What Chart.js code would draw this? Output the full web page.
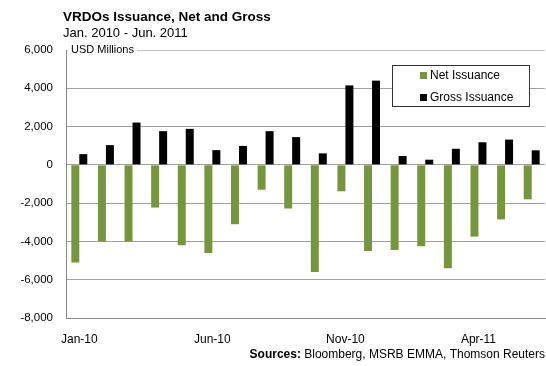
<!DOCTYPE html>
<html>
<head>
<meta charset="utf-8">
<script src="https://cdn.jsdelivr.net/npm/chart.js@4"></script>
<style>
  html, body { margin: 0; padding: 0; background: #fff; }
  #wrap { position: relative; width: 546px; height: 366px; }
</style>
</head>
<body>
<div id="wrap"><canvas id="chart" width="546" height="366"></canvas></div>
<script>
// --- Data ---
const months = ['Jan-10', 'Feb-10', 'Mar-10', 'Apr-10', 'May-10', 'Jun-10', 'Jul-10', 'Aug-10', 'Sep-10',
    'Oct-10', 'Nov-10', 'Dec-10', 'Jan-11', 'Feb-11', 'Mar-11', 'Apr-11', 'May-11', 'Jun-11'];
const netIssuance = [-5100, -4000, -4000, -2230, -4200, -4600, -3100, -1300, -2280,
    -5600, -1380, -4500, -4450, -4250, -5400, -3750, -2850, -1800];
const grossIssuance = [560, 1030, 2210, 1760, 1880, 770, 990, 1760, 1450,
    600, 4150, 4400, 460, 270, 840, 1180, 1320, 760];
const shownLabels = ['Jan-10', 'Jun-10', 'Nov-10', 'Apr-11'];
const yTicks = [-8000, -6000, -4000, -2000, 0, 2000, 4000, 6000];

const GREEN = '#76963d';
const FONT = '"Liberation Sans", Arial, sans-serif';

// Title, unit label, legend box and source line
const decorations = {
    id: 'decorations',
    afterDraw(chart) {
        const ctx = chart.ctx;
        const area = chart.chartArea;
        ctx.save();
        ctx.textBaseline = 'middle';
        ctx.fillStyle = '#000';
        ctx.font = 'bold 13.5px ' + FONT;
        ctx.fillText('VRDOs Issuance, Net and Gross', 63, 17);
        ctx.font = '13px ' + FONT;
        ctx.fillText('Jan. 2010 - Jun. 2011', 63, 33);

        // unit label over the top gridline
        ctx.font = '11px ' + FONT;
        const unit = 'USD Millions';
        const w = ctx.measureText(unit).width;
        ctx.fillStyle = '#fff';
        ctx.fillRect(area.left + 2, area.top - 6, w + 6, 12);
        ctx.fillStyle = '#000';
        ctx.fillText(unit, area.left + 5, area.top);

        // legend
        ctx.fillStyle = '#fff';
        ctx.fillRect(392, 65, 137, 41);
        ctx.strokeStyle = '#333';
        ctx.lineWidth = 1;
        ctx.strokeRect(392.5, 65.5, 137, 41);
        ctx.font = '12px ' + FONT;
        ctx.fillStyle = GREEN;
        ctx.fillRect(420, 72, 7, 7);
        ctx.fillStyle = '#000';
        ctx.fillText('Net Issuance', 430, 76);
        ctx.fillRect(420, 94, 7, 7);
        ctx.fillText('Gross Issuance', 430, 98);

        // sources
        ctx.textAlign = 'right';
        ctx.font = '12px ' + FONT;
        const rest = ' Bloomberg, MSRB EMMA, Thomson Reuters';
        const rw = ctx.measureText(rest).width;
        ctx.fillText(rest, 545, 355);
        ctx.font = 'bold 12px ' + FONT;
        ctx.fillText('Sources:', 545 - rw, 355);
        ctx.restore();
    }
};

const ctx = document.getElementById('chart').getContext('2d');
const chart = new Chart(ctx, {
    type: 'bar',
    data: {
        labels: months,
        datasets: [{
            label: 'Net Issuance',
            data: netIssuance,
            backgroundColor: GREEN,
            borderWidth: 0,
            categoryPercentage: 0.6,
            barPercentage: 1.0
        }, {
            label: 'Gross Issuance',
            data: grossIssuance,
            backgroundColor: '#000',
            borderWidth: 0,
            categoryPercentage: 0.6,
            barPercentage: 1.0
        }]
    },
    options: {
        responsive: false,
        animation: false,
        layout: { padding: { top: 50, left: 0, right: 1, bottom: 0 } },
        plugins: {
            legend: { display: false },
            tooltip: { enabled: false }
        },
        scales: {
            x: {
                grid: { display: false, drawTicks: false },
                border: { color: '#888' },
                ticks: {
                    autoSkip: false,
                    maxRotation: 0,
                    padding: 14,
                    color: '#000',
                    font: { family: FONT, size: 12 },
                    callback: function (val, i) {
                        const lab = this.getLabelForValue(val);
                        return shownLabels.includes(lab) ? lab : '';
                    }
                },
                afterFit: (scale) => { scale.height = 48; }
            },
            y: {
                min: -8000,
                max: 6000,
                afterBuildTicks: (scale) => { scale.ticks = yTicks.map(v => ({ value: v })); },
                grid: {
                    drawTicks: false,
                    color: (c) => c.tick && c.tick.value === 6000 ? '#c8c8c8' : '#a0a0a0'
                },
                border: { color: '#888' },
                ticks: {
                    padding: 13,
                    color: '#000',
                    font: { family: FONT, size: 11.5 },
                    callback: (v) => v.toLocaleString('en-US')
                },
                afterFit: (scale) => { scale.width = 66; }
            }
        }
    },
    plugins: [decorations]
});
</script>
</body>
</html>
